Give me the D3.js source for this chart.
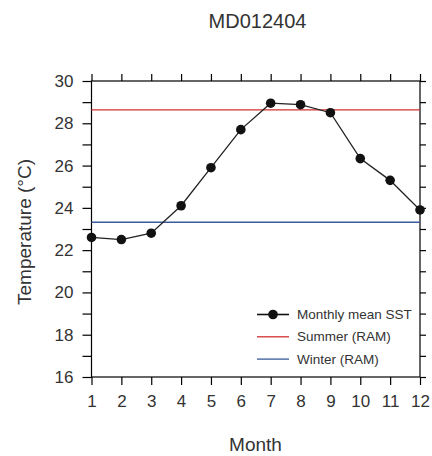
<!DOCTYPE html>
<html><head><meta charset="utf-8">
<script src="https://cdn.jsdelivr.net/npm/d3@7"></script>
<style>body{margin:0;background:#fff}svg{display:block;font-family:"Liberation Sans",Arial,sans-serif}</style>
</head><body><svg id="c" width="432" height="456"></svg>
<script>
const title = "MD012404";
const months = [1,2,3,4,5,6,7,8,9,10,11,12];
const sst = [22.6,22.5,22.8,24.1,25.9,27.7,28.95,28.88,28.5,26.33,25.3,23.9];
const summerRAM = 28.63;
const winterRAM = 23.32;
const yTicks = [16,18,20,22,24,26,28,30];
const yMinor = [16,17,18,19,20,21,22,23,24,25,26,27,28,29,30];

const svg = d3.select("#c");
const L=91.5, R=420, T=81, B=377;
const x = d3.scaleLinear().domain([1,12]).range([L,R]);
const y = d3.scaleLinear().domain([16,30]).range([B,T]);

svg.append("rect").attr("x",L).attr("y",T).attr("width",R-L).attr("height",B-T)
  .attr("fill","none").attr("stroke","#000").attr("stroke-width",1.2);

const gl = svg.append("g").attr("transform",`translate(${L},0)`)
  .call(d3.axisLeft(y).tickValues(yMinor).tickSize(9).tickFormat(d=> yTicks.includes(d)? d : ""));
const gr = svg.append("g").attr("transform",`translate(${R},0)`)
  .call(d3.axisRight(y).tickValues(yMinor).tickSize(6).tickFormat(""));
const gb = svg.append("g").attr("transform",`translate(0,${B})`)
  .call(d3.axisBottom(x).tickValues(months).tickSize(8).tickFormat(d3.format("d")));
const gt = svg.append("g").attr("transform",`translate(0,${T})`)
  .call(d3.axisTop(x).tickValues(months).tickSize(7).tickFormat(""));
[gl,gr,gb,gt].forEach(g=>{
  g.select(".domain").remove();
  g.selectAll("line").attr("stroke","#000").attr("stroke-width",1.2);
  g.selectAll("text").attr("fill","#333").style("font-size","17px")
   .style("font-family",'"Liberation Sans",Arial,sans-serif');
});
gl.selectAll("text").attr("x",-18);
gb.selectAll("text").attr("y",18);

svg.append("line").attr("x1",L).attr("x2",R).attr("y1",y(summerRAM)).attr("y2",y(summerRAM))
  .attr("stroke","#d03030").attr("stroke-width",1.3);
svg.append("line").attr("x1",L).attr("x2",R).attr("y1",y(winterRAM)).attr("y2",y(winterRAM))
  .attr("stroke","#3a5a9a").attr("stroke-width",1.3);

const data = months.map((m,i)=>({m,v:sst[i]}));
svg.append("path").datum(data).attr("fill","none").attr("stroke","#222").attr("stroke-width",1.3)
  .attr("d", d3.line().x(d=>x(d.m)).y(d=>y(d.v)));
svg.selectAll("circle.pt").data(data).join("circle").attr("class","pt")
  .attr("cx",d=>x(d.m)).attr("cy",d=>y(d.v)).attr("r",4.8).attr("fill","#111");

const leg = [{t:"Monthly mean SST",c:"#111",dot:true},{t:"Summer (RAM)",c:"#d03030"},{t:"Winter (RAM)",c:"#3a5a9a"}];
const lg = svg.append("g");
leg.forEach((d,i)=>{
  const yy = 314.5 + i*22.3;
  lg.append("line").attr("x1",257).attr("x2",289).attr("y1",yy).attr("y2",yy)
    .attr("stroke",d.c).attr("stroke-width",d.dot?1.6:1.3);
  if(d.dot) lg.append("circle").attr("cx",273).attr("cy",yy).attr("r",4.8).attr("fill",d.c);
  lg.append("text").attr("x",297).attr("y",yy+4.5).text(d.t)
    .style("font-size","13.5px").attr("fill","#333");
});

svg.append("text").attr("x",257.5).attr("y",28).attr("text-anchor","middle")
  .style("font-size","20px").attr("fill","#333").text(title);
svg.append("text").attr("x",255.5).attr("y",451).attr("text-anchor","middle")
  .style("font-size","19px").attr("fill","#333").text("Month");
svg.append("text").attr("transform","translate(31,232) rotate(-90)").attr("text-anchor","middle")
  .style("font-size","19px").attr("fill","#333").text("Temperature (°C)");
</script></body></html>
